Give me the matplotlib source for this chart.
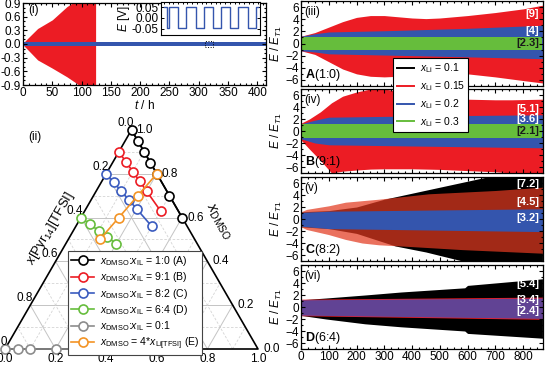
import numpy as np
import matplotlib
matplotlib.use('Agg')
import matplotlib.pyplot as plt
from matplotlib.ticker import MultipleLocator
from matplotlib.lines import Line2D

plt.rcParams['font.family'] = ['Liberation Sans', 'DejaVu Sans']
plt.rcParams['mathtext.fontset'] = 'custom'
plt.rcParams['mathtext.rm'] = 'Liberation Sans'
plt.rcParams['mathtext.it'] = 'Liberation Sans:italic'
plt.rcParams['mathtext.bf'] = 'Liberation Sans:bold'
plt.rcParams['font.size'] = 8.5

# ---------------- data ----------------
# panel (i): envelope of red oscillation (x_Li=0.15) and blue band
t_red = [0, 10, 25, 50, 75, 90, 100, 124]
red_hi = [0.02, 0.15, 0.34, 0.53, 0.82, 0.95, 1.0, 1.0]
red_lo = [-0.02, -0.15, -0.35, -0.53, -0.72, -0.85, -0.95, -1.0]
t_blue = [0, 415]
blue_hi = [0.045, 0.045]
blue_lo = [-0.045, -0.045]
# inset square wave corners
inset_t = [0, 0.34, 0.34, 0.5, 0.5, 1.52, 1.52, 2.36, 2.36, 3.37, 3.37, 4.21, 4.21,
           5.22, 5.22, 6.06, 6.06, 7.07, 7.07, 7.91, 7.91, 8.92, 8.92, 9.73, 9.73, 10]
inset_E = [0.05, 0.05, -0.045, -0.045, 0.05, 0.05, -0.045, -0.045, 0.05, 0.05, -0.045, -0.045, 0.05,
           0.05, -0.045, -0.045, 0.05, 0.05, -0.045, -0.045, 0.05, 0.05, -0.045, -0.045, 0.05, 0.05]

# panel (iii) A(1:0)
tA_red = [0, 50, 100, 150, 200, 250, 300, 350, 400, 450, 500, 600, 700, 800, 870]
A_red_hi = [1.2, 1.8, 2.7, 3.6, 4.3, 4.6, 4.6, 4.4, 4.2, 4.1, 4.2, 4.6, 5.1, 5.7, 6.3]
A_red_lo = [-1.2, -1.8, -3.0, -4.2, -5.0, -5.4, -5.5, -5.4, -5.1, -4.9, -4.8, -5.0, -5.5, -6.1, -6.5]
tA_blue = [0, 50, 100, 300, 600, 870]
A_blue_hi = [1.2, 1.6, 1.9, 2.1, 2.5, 3.0]
A_blue_lo = [-1.2, -1.4, -1.7, -1.9, -2.2, -2.5]
A_green = [1.15, -1.15]

# panel (iv) B(9:1)
tB_red = [0, 30, 70, 110, 150, 200, 250, 300, 400, 500, 600, 700, 760, 870]
B_red_hi = [1.3, 2.0, 3.2, 4.7, 5.8, 6.5, 7.0, 7.0, 6.3, 5.7, 5.3, 5.2, 5.2, 5.3]
B_red_lo = [-1.5, -3.0, -4.9, -7.0, -6.7, -6.5, -6.35, -6.3, -6.3, -6.4, -6.6, -6.8, -7.0, -7.0]
tB_blue = [0, 50, 100, 400, 870]
B_blue_hi = [1.2, 1.8, 2.3, 2.5, 2.7]
B_blue_lo = [-1.3, -2.0, -2.3, -2.5, -2.8]
B_green = [1.2, -1.2]

# panel (v) C(8:2)
tC_black = [0, 100, 200, 300, 400, 500, 600, 680, 870]
C_black_hi = [1.2, 1.4, 2.0, 3.3, 4.3, 5.3, 6.3, 7.1, 7.1]
tC_black_l = [0, 100, 200, 300, 340, 450, 520, 600, 870]
C_black_lo = [-1.3, -1.6, -2.4, -3.9, -4.5, -5.5, -6.3, -7.2, -7.2]
tC_red = [0, 20, 100, 160, 220, 280, 460, 700, 870]
C_red_hi = [1.2, 1.6, 2.2, 2.8, 3.05, 3.3, 4.2, 4.75, 5.3]
tC_red_l = [0, 20, 100, 160, 220, 280, 400, 580, 870]
C_red_lo = [-1.3, -1.75, -2.6, -3.4, -4.0, -4.3, -4.6, -5.1, -5.7]
tC_blue = [0, 100, 870]
C_blue_hi = [1.1, 1.3, 1.7]
C_blue_lo = [-1.2, -1.6, -2.1]

# panel (vi) D(6:4)
tD_black = [0, 90, 230, 360, 590, 600, 870]
D_black_hi = [1.2, 1.5, 2.0, 2.5, 3.2, 3.6, 4.7]
D_black_lo = [-1.4, -2.0, -2.8, -3.3, -4.0, -4.4, -5.2]
tD_band = [0, 870]
D_red_hi = [1.3, 1.65]
D_red_lo = [-1.45, -2.05]
D_blue_hi = [1.2, 1.5]
D_blue_lo = [-1.35, -1.9]

# ternary data (x_Li values along each composition line)
A_li = [0, 0.05, 0.1, 0.15, 0.2, 0.3, 0.4]
B_li = [0, 0.05, 0.1, 0.15, 0.2, 0.3]
C_li = [0, 0.05, 0.1, 0.15, 0.2, 0.3]
D_li = [0, 0.05, 0.1, 0.15, 0.2]
IL_li = [0, 0.05, 0.1, 0.2, 0.3]
E_li = [0.125, 0.15, 0.175, 0.2]

RED = '#ec1c24'
BLUE = '#3455ad'
GREEN = '#66bd3c'
ORANGE = '#f39425'
GRAY = '#8c8c8c'

W, H = 553, 366
fig = plt.figure(figsize=(W / 100, H / 100), dpi=100)


def px_axes(x0, y0, x1, y1):
    return fig.add_axes([x0 / W, 1 - y1 / H, (x1 - x0) / W, (y1 - y0) / H])


def style_ticks(ax):
    ax.tick_params(which='both', direction='in', top=True, right=True, width=0.8, pad=1.5)
    ax.tick_params(which='major', length=3)
    ax.tick_params(which='minor', length=1.6)
    for s in ax.spines.values():
        s.set_linewidth(0.9)


# ---------------- panel (i) ----------------
ax1 = px_axes(23, 3, 266, 85)
ax1.fill_between(t_red, red_lo, red_hi, color=RED, lw=0)
ax1.fill_between(t_blue, blue_lo, blue_hi, color=BLUE, lw=0)
ax1.add_patch(plt.Rectangle((310, -0.06), 15, 0.12, fill=False, ls=':', lw=0.7, ec='k'))
ax1.set_xlim(0, 415)
ax1.set_ylim(-0.9, 0.9)
ax1.set_yticks([-0.9, -0.6, -0.3, 0.0, 0.3, 0.6, 0.9])
ax1.set_yticklabels(['-0.9', '-0.6', '-0.3', '0.0', '0.3', '0.6', '0.9'])
ax1.xaxis.set_major_locator(MultipleLocator(50))
ax1.xaxis.set_minor_locator(MultipleLocator(10))
ax1.yaxis.set_minor_locator(MultipleLocator(0.1))
style_ticks(ax1)
ax1.set_xlabel('$t$ / h', labelpad=0)
ax1.set_ylabel('$E$ [V]')
ax1.yaxis.set_label_coords(-0.085, 0.5)
ax1.text(0.02, 0.88, '(i)', transform=ax1.transAxes)

# inset
axi = px_axes(161, 2, 260, 35)
axi.plot(inset_t, inset_E, color=BLUE, lw=1.0)
axi.set_xlim(-0.3, 10.2)
axi.set_ylim(-0.08, 0.075)
axi.set_yticks([-0.05, 0.0, 0.05])
axi.set_yticklabels(['-0.05', '0.00', '0.05'])
axi.set_xticks([])
axi.xaxis.set_minor_locator(MultipleLocator(0.5))
axi.tick_params(which='both', direction='in', top=True, right=True, bottom=False, width=0.7, pad=1.5)
axi.tick_params(which='major', length=2.5)
axi.tick_params(which='minor', length=1.5)
axi.set_ylabel('$E$ [V]', labelpad=0)

# ---------------- right panels ----------------
rows = [(1, 86), (89, 173), (177, 261), (265, 349)]
axes_r = [px_axes(301, y0, 543, y1) for (y0, y1) in rows]


def band(ax, t, lo, hi, color, alpha=1.0, t2=None):
    if t2 is None:
        ax.fill_between(t, lo, hi, color=color, lw=0, alpha=alpha)
    else:
        tt = sorted(set(t) | set(t2))
        ax.fill_between(tt, np.interp(tt, t2, lo), np.interp(tt, t, hi), color=color, lw=0, alpha=alpha)


def tag(ax, y, s, color='white'):
    ax.text(0.985, y, s, color=color, fontweight='bold', ha='right', va='center',
            transform=ax.get_yaxis_transform(), fontsize=8)


# (iii)
ax = axes_r[0]
band(ax, tA_red, A_red_lo, A_red_hi, RED)
band(ax, tA_blue, A_blue_lo, A_blue_hi, BLUE)
ax.fill_between([0, 870], [A_green[1]] * 2, [A_green[0]] * 2, color=GREEN, lw=0)
tag(ax, 4.9, '[9]'); tag(ax, 2.1, '[4]'); tag(ax, 0.0, '[2.3]', '#1a1a1a')
ax.text(0.015, 0.87, '(iii)', transform=ax.transAxes, va='center')
ax.text(0.015, 0.13, r'$\mathbf{A}$(1:0)', transform=ax.transAxes, va='center', fontsize=9)

# (iv)
ax = axes_r[1]
band(ax, tB_red, B_red_lo, B_red_hi, RED)
band(ax, tB_blue, B_blue_lo, B_blue_hi, BLUE)
ax.fill_between([0, 870], [B_green[1]] * 2, [B_green[0]] * 2, color=GREEN, lw=0)
tag(ax, 3.7, '[5.1]'); tag(ax, 2.0, '[3.6]'); tag(ax, 0.0, '[2.1]', '#1a1a1a')
ax.text(0.015, 0.87, '(iv)', transform=ax.transAxes, va='center')
ax.text(0.015, 0.13, r'$\mathbf{B}$(9:1)', transform=ax.transAxes, va='center', fontsize=9)

# (v)
ax = axes_r[2]
band(ax, tC_black, C_black_lo, C_black_hi, 'black', t2=tC_black_l)
band(ax, tC_red, C_red_lo, C_red_hi, '#e23a20', alpha=0.72, t2=tC_red_l)
band(ax, tC_blue, C_blue_lo, C_blue_hi, BLUE)
tag(ax, 5.9, '[7.2]'); tag(ax, 2.8, '[4.5]'); tag(ax, 0.1, '[3.2]')
ax.text(0.015, 0.87, '(v)', transform=ax.transAxes, va='center')
ax.text(0.015, 0.13, r'$\mathbf{C}$(8:2)', transform=ax.transAxes, va='center', fontsize=9)

# (vi)
ax = axes_r[3]
band(ax, tD_black, D_black_lo, D_black_hi, 'black')
band(ax, tD_band, D_red_lo, D_red_hi, RED)
band(ax, tD_band, D_blue_lo, D_blue_hi, '#3a4fb5', alpha=0.78)
tag(ax, 3.8, '[5.4]'); tag(ax, 1.2, '[3.4]'); tag(ax, -0.7, '[2.4]')
ax.text(0.015, 0.87, '(vi)', transform=ax.transAxes, va='center')
ax.text(0.015, 0.13, r'$\mathbf{D}$(6:4)', transform=ax.transAxes, va='center', fontsize=9)

for i, ax in enumerate(axes_r):
    ax.set_xlim(0, 872)
    ax.set_ylim(-7, 7)
    ax.set_yticks([-6, -4, -2, 0, 2, 4, 6])
    ax.yaxis.set_minor_locator(MultipleLocator(1))
    ax.xaxis.set_major_locator(MultipleLocator(100))
    ax.xaxis.set_minor_locator(MultipleLocator(25))
    style_ticks(ax)
    ax.set_ylabel('$E$ / $E_{T1}$', labelpad=0)
    ax.yaxis.set_label_coords(-0.07, 0.5)
    if i < 3:
        ax.tick_params(labelbottom=False)

# legend for right panels
h_r = [Line2D([], [], color=c, lw=1.4) for c in ['black', RED, BLUE, GREEN]]
l_r = [r'$x_{\rm Li}$ = 0.1', r'$x_{\rm Li}$ = 0.15', r'$x_{\rm Li}$ = 0.2', r'$x_{\rm Li}$ = 0.3']
leg = fig.legend(h_r, l_r, loc='upper left', bbox_to_anchor=(393 / W, 1 - 58 / H),
                 frameon=True, fancybox=False, framealpha=1, edgecolor='black',
                 fontsize=7.5, handlelength=1.7, handletextpad=0.5, labelspacing=0.38,
                 borderpad=0.35, borderaxespad=0)
leg.get_frame().set_linewidth(0.8)

# ---------------- ternary (ii) ----------------
S = 253.0
axt = fig.add_axes([0, 0, 270 / W, 246 / H])
axt.set_xlim(-5 / S, 265 / S)
axt.set_ylim(-17 / S, 229 / S)
axt.axis('off')
R3 = np.sqrt(3) / 2


def tern(li, dmso):
    li = np.asarray(li, float)
    dmso = np.asarray(dmso, float)
    return li + 0.5 * dmso, dmso * R3


# grid
for k in range(1, 10):
    v = k / 10
    major = (k % 2 == 0)
    kw = dict(color='#c4c4c4', lw=0.7, ls='-') if major else dict(color='#d4d4d4', lw=0.6, ls=(0, (3, 2)))
    x, y = tern([v, v], [0, 1 - v]); axt.plot(x, y, zorder=1, **kw)
    x, y = tern([1 - v, 0], [0, 1 - v]); axt.plot(x, y, zorder=1, **kw)
    x, y = tern([0, 1 - v], [v, v]); axt.plot(x, y, zorder=1, **kw)

x, y = tern([0, 1, 0, 0], [0, 0, 1, 0])
axt.plot(x, y, color='black', lw=1.2, zorder=2)

mk = dict(marker='o', mfc='white', ms=6.5, mew=1.2, lw=1.2, zorder=3)
series = [
    (A_li, 1.0, 'black', r'$x_{\rm DMSO}$:$x_{\rm IL}$ = 1:0 (A)'),
    (B_li, 0.9, RED, r'$x_{\rm DMSO}$:$x_{\rm IL}$ = 9:1 (B)'),
    (C_li, 0.8, '#3a5bbf', r'$x_{\rm DMSO}$:$x_{\rm IL}$ = 8:2 (C)'),
    (D_li, 0.6, GREEN, r'$x_{\rm DMSO}$:$x_{\rm IL}$ = 6:4 (D)'),
    (IL_li, 0.0, GRAY, r'$x_{\rm DMSO}$:$x_{\rm IL}$ = 0:1'),
]
handles, labels = [], []
for li, frac, c, lab in series:
    li = np.asarray(li)
    x, y = tern(li, (1 - li) * frac)
    l, = axt.plot(x, y, color=c, mec=c, **mk)
    handles.append(l); labels.append(lab)
E_li_a = np.asarray(E_li)
x, y = tern(E_li_a, 4 * E_li_a)
l, = axt.plot(x, y, color=ORANGE, mec=ORANGE, **mk)
handles.append(l); labels.append(r'$x_{\rm DMSO}$ = 4*$x_{\rm Li[TFSI]}$ (E)')

leg2 = fig.legend(handles, labels, loc='upper left', bbox_to_anchor=(68 / W, 1 - 251 / H),
                  frameon=True, fancybox=False, framealpha=1, edgecolor='#444444',
                  fontsize=7.6, handlelength=2.2, handletextpad=0.5, labelspacing=0.22,
                  borderpad=0.3, borderaxespad=0)
leg2.get_frame().set_linewidth(0.8)

# ternary tick labels
for k in range(0, 6):
    v = k / 5
    lab = f'{v:.1f}'
    x, y = tern(v, 0)
    axt.text(x, y - 10 / S, lab, ha='center', va='center', clip_on=False)
    x, y = tern(0, 1 - v)  # IL = v on left edge
    axt.text(x - 6 / S, y + 7 / S, lab, ha='center', va='center', clip_on=False)
    x, y = tern(1 - v, v)  # DMSO = v on right edge
    axt.text(x + 5 / S, y, lab, ha='left', va='center', clip_on=False)

axt.text(0.182, 0.478, r'$x$[Pyr$_{14}$][TFSI]', rotation=60, ha='center', va='center', fontsize=9.5)
axt.text(0.842, 0.502, r'$x_{\rm DMSO}$', rotation=-60, ha='center', va='center', fontsize=10.5)
axt.text(0.119, 0.838, '(ii)', ha='center', va='center')

fig.savefig('out.png', dpi=100)
